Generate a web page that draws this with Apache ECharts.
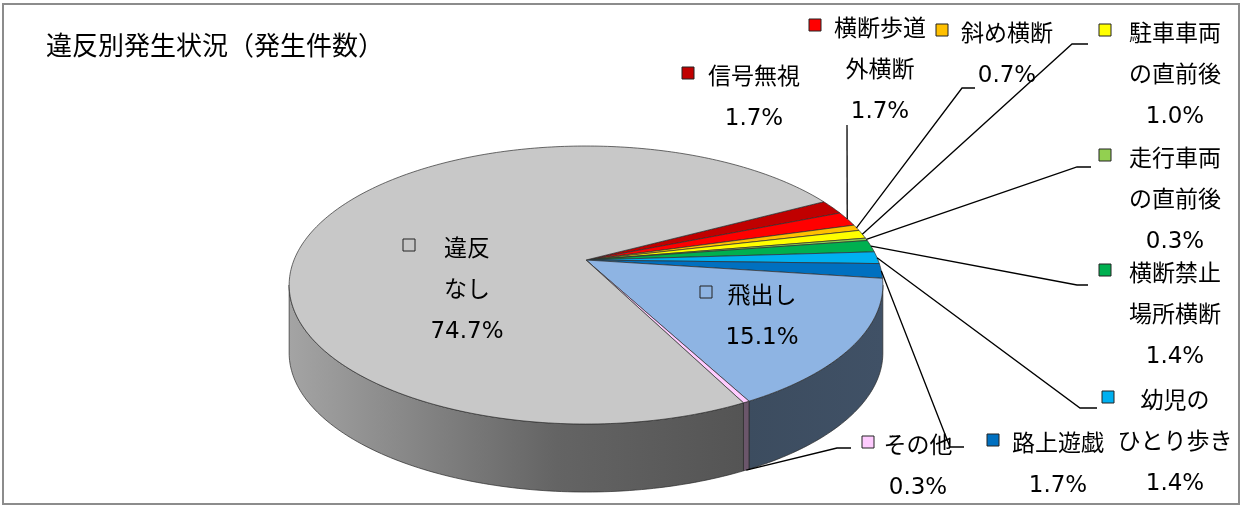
<!DOCTYPE html>
<html>
<head>
<meta charset="utf-8">
<script src="https://cdn.jsdelivr.net/npm/echarts@6/dist/echarts.min.js"></script>
<style>
html, body { margin: 0; padding: 0; background: #fff; }
#chart { width: 1243px; height: 507px; }
</style>
</head>
<body>
<div id="chart"></div>
<script>
var
// --------------------------------------------------------------------------------
// 違反区分
categories = ['信号無視', '横断歩道\n外横断', '斜め横断', '駐車車両\nの直前後', '走行車両\nの直前後',
	'横断禁止\n場所横断', '幼児の\nひとり歩き', '路上遊戯', '飛出し', 'その他', '違反\nなし'],
// 割合(%)
values = [1.7, 1.7, 0.7, 1.0, 0.3, 1.4, 1.4, 1.7, 15.1, 0.3, 74.7],
// 色
colors = ['#c00000', '#ff0000', '#ffc000', '#ffff00', '#92d050',
	'#00b050', '#00b0f0', '#0070c0', '#8eb4e3', '#ffccff', '#c8c8c8'],

/* ラベルの配置 (x:文字中心, y:1行目, key:凡例マーク, path:引出線) */
labelLayout = [
	{ x: 754, y: 78, key: 688 },
	{ x: 880, y: 30, key: 815, path: [[847, 125]] },
	{ x: 1007, y: 35, key: 942, path: [[962, 88], [975, 88]] },
	{ x: 1175, y: 35, key: 1105, path: [[1072, 44], [1088, 44]] },
	{ x: 1175, y: 160, key: 1105, path: [[1077, 167], [1091, 167]] },
	{ x: 1175, y: 275, key: 1105, path: [[1077, 285], [1088, 285]] },
	{ x: 1175, y: 402, key: 1108, path: [[1080, 408], [1097, 408]] },
	{ x: 1058, y: 445, key: 993, path: [[950, 447], [964, 447]] },
	{ x: 762, y: 297, key: 706 },
	{ x: 918, y: 447, key: 868, path: [[837, 448], [851, 448]], side: true },
	{ x: 467, y: 250, key: 409 }
],

/* 3D円の形 */
Pie3D = { cx: 586, cy: 260, a: 292, b: 134.5, k: 0.18, h: 68, start: -28 },
FONT = '23px "DejaVu Sans", "Noto Sans CJK JP", sans-serif',
D2R = Math.PI / 180,

// 円周上の点 (t:角度, r:半径比, dz:下方向のずれ)
proj = function(t, r, dz) {
	var u = r * Math.cos(t), v = r * Math.sin(t), w = 1 - Pie3D.k * v;
	return [Pie3D.cx + Pie3D.a * u / w, Pie3D.cy + Pie3D.b * v / w + (dz || 0)];
},
arc = function(t0, t1, dz) {
	var n = Math.max(2, Math.ceil((t1 - t0) / D2R)), pts = [];
	for (var s = 0; s <= n; s++) {
		pts.push(proj(t0 + (t1 - t0) * s / n, 1, dz));
	}
	return pts;
},
shade = function(hex, f) {
	var c = parseInt(hex.slice(1), 16),
		r = Math.round(((c >> 16) & 255) * f),
		g = Math.round(((c >> 8) & 255) * f),
		b = Math.round((c & 255) * f);
	return 'rgb(' + r + ',' + g + ',' + b + ')';
},

renderSlice = function(params, api) {
	var i = params.dataIndex, total = 0, before = 0, j;
	for (j = 0; j < values.length; j++) {
		total += values[j];
		if (j < i) before += values[j];
	}
	var t0 = (Pie3D.start + before / total * 360) * D2R,
		t1 = t0 + api.value(0) / total * 360 * D2R,
		color = colors[i],
		children = [],
		// 側面の見える範囲
		s0 = Math.asin(Pie3D.k), s1 = Math.PI - s0,
		w0 = Math.max(t0, s0), w1 = Math.min(t1, s1);

	if (w1 > w0) {
		var top = arc(w0, w1, 0), bottom = arc(w0, w1, Pie3D.h).reverse();
		children.push({
			type: 'polygon',
			z2: 10,
			shape: { points: top.concat(bottom) },
			style: {
				fill: new echarts.graphic.LinearGradient(289, 0, 883, 0, [
					{ offset: 0, color: shade(color, 0.82) },
					{ offset: 0.25, color: shade(color, 0.64) },
					{ offset: 0.45, color: shade(color, 0.5) },
					{ offset: 0.77, color: shade(color, 0.42) },
					{ offset: 1, color: shade(color, 0.45) }
				], true),
				stroke: '#2a2a2a',
				lineWidth: 0.7
			}
		});
	}
	children.push({
		type: 'polygon',
		z2: 50,
		shape: { points: [[Pie3D.cx, Pie3D.cy]].concat(arc(t0, t1, 0)) },
		style: { fill: color, stroke: '#2e2e2e', lineWidth: 0.7 }
	});

	// ラベル
	var lay = labelLayout[i],
		lines = categories[i].split('\n').concat([api.value(0).toFixed(1) + '%']);
	lines.forEach(function(txt, n) {
		children.push({
			type: 'text',
			z2: 200,
			x: lay.x,
			y: lay.y + n * 41,
			style: { text: txt, font: FONT, fill: '#000', align: 'center', verticalAlign: 'middle' }
		});
	});
	children.push({
		type: 'rect',
		z2: 200,
		shape: { x: lay.key - 6, y: lay.y - 11, width: 12, height: 12 },
		style: { fill: color, stroke: '#222', lineWidth: 1 }
	});
	if (lay.path) {
		var tm = (t0 + t1) / 2;
		children.push({
			type: 'polyline',
			z2: 150,
			shape: { points: [proj(tm, 1, lay.side ? Pie3D.h : 0)].concat(lay.path) },
			style: { stroke: '#000', lineWidth: 1.3, fill: null }
		});
	}
	return { type: 'group', children: children };
};

// --------------------------------------------------------------------------------
var chart = echarts.init(document.getElementById('chart'));
var option = {
	animation: false,
	backgroundColor: '#fff',
	title: {
		text: '違反別発生状況（発生件数）',
		left: 41,
		top: 27,
		textStyle: {
			fontFamily: '"Noto Sans CJK JP", sans-serif',
			fontSize: 26,
			fontWeight: 'normal',
			color: '#000'
		}
	},
	graphic: [{
		type: 'rect',
		shape: { x: 3, y: 4, width: 1236, height: 500 },
		style: { fill: null, stroke: '#8c8c8c', lineWidth: 2 }
	}],
	series: [{
		type: 'custom',
		coordinateSystem: 'none',
		clip: false,
		data: values.map(function(v) { return [v]; }),
		renderItem: renderSlice
	}]
};
chart.setOption(option);
</script>
</body>
</html>
